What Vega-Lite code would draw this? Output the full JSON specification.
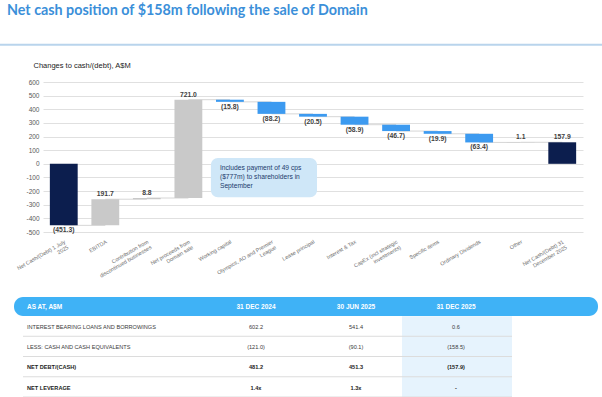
{
  "$schema": "https://vega.github.io/schema/vega-lite/v6.json",
  "width": 602,
  "height": 397,
  "autosize": {"type": "none"},
  "padding": 0,
  "background": "#ffffff",
  "config": {"view": {"stroke": null}, "font": "Liberation Sans", "axis": {"labelOverlap": false}},
  "title": {
    "text": "Net cash position of $158m following the sale of Domain",
    "anchor": "start",
    "frame": "group",
    "font": "Lato",
    "fontSize": 14.3,
    "fontWeight": "bold",
    "color": "#3b8fd9",
    "baseline": "alphabetic",
    "offset": 0,
    "dy": 29,
    "dx": 7
  },
  "resolve": {"scale": {"x": "independent", "y": "independent", "color": "independent"}},
  "layer": [
    {
      "data": {
        "values": [
          {"step": "Net Cash/(Debt) 1 July 2025", "start": 0, "end": -451.3, "kind": "total", "label": "(451.3)", "next": "EBITDA"},
          {"step": "EBITDA", "start": -451.3, "end": -259.6, "kind": "up", "label": "191.7", "next": "Contribution from discontinued businesses"},
          {"step": "Contribution from discontinued businesses", "start": -259.6, "end": -250.8, "kind": "up", "label": "8.8", "next": "Net proceeds from Domain sale"},
          {"step": "Net proceeds from Domain sale", "start": -250.8, "end": 470.2, "kind": "up", "label": "721.0", "next": "Working capital"},
          {"step": "Working capital", "start": 470.2, "end": 454.4, "kind": "down", "label": "(15.8)", "next": "Olympics, AO and Premier League"},
          {"step": "Olympics, AO and Premier League", "start": 454.4, "end": 366.2, "kind": "down", "label": "(88.2)", "next": "Lease principal"},
          {"step": "Lease principal", "start": 366.2, "end": 345.7, "kind": "down", "label": "(20.5)", "next": "Interest & Tax"},
          {"step": "Interest & Tax", "start": 345.7, "end": 286.8, "kind": "down", "label": "(58.9)", "next": "CapEx (incl strategic investments)"},
          {"step": "CapEx (incl strategic investments)", "start": 286.8, "end": 240.1, "kind": "down", "label": "(46.7)", "next": "Specific items"},
          {"step": "Specific items", "start": 240.1, "end": 220.2, "kind": "down", "label": "(19.9)", "next": "Ordinary Dividends"},
          {"step": "Ordinary Dividends", "start": 220.2, "end": 156.8, "kind": "down", "label": "(63.4)", "next": "Other"},
          {"step": "Other", "start": 156.8, "end": 157.9, "kind": "up", "label": "1.1", "next": "Net Cash/(Debt) 31 December 2025"},
          {"step": "Net Cash/(Debt) 31 December 2025", "start": 0, "end": 157.9, "kind": "total", "label": "157.9"}
        ]
      },
      "layer": [
        {
          "mark": {"type": "rule", "color": "#d6d6d6", "strokeWidth": 1},
          "transform": [{"filter": "datum.next != null"}],
          "encoding": {
            "x": {
              "field": "step", "type": "nominal",
              "scale": {
                "domain": ["Net Cash/(Debt) 1 July 2025", "EBITDA", "Contribution from discontinued businesses", "Net proceeds from Domain sale", "Working capital", "Olympics, AO and Premier League", "Lease principal", "Interest & Tax", "CapEx (incl strategic investments)", "Specific items", "Ordinary Dividends", "Other", "Net Cash/(Debt) 31 December 2025"],
                "range": [43, 583], "paddingInner": 0.33, "paddingOuter": 0.165
              },
              "axis": {
                "orient": "bottom", "offset": -165, "title": null, "labelAngle": -30, "labelAlign": "right", "labelBaseline": "top",
                "labelFontSize": 5.4, "labelColor": "#6b6b6b", "ticks": false, "domain": false, "labelPadding": 7, "labelLineHeight": 6.4, "labelOverlap": false, "labelBound": false,
                "labelExpr": "datum.value == 'Net Cash/(Debt) 1 July 2025' ? ['Net Cash/(Debt) 1 July', '2025'] : datum.value == 'Contribution from discontinued businesses' ? ['Contribution from', 'discontinued businesses'] : datum.value == 'Net proceeds from Domain sale' ? ['Net proceeds from', 'Domain sale'] : datum.value == 'Olympics, AO and Premier League' ? ['Olympics, AO and Premier', 'League'] : datum.value == 'CapEx (incl strategic investments)' ? ['CapEx (incl strategic', 'investments)'] : datum.value == 'Net Cash/(Debt) 31 December 2025' ? ['Net Cash/(Debt) 31', 'December 2025'] : datum.label"
              }
            },
            "x2": {"field": "next"},
            "y": {
              "field": "end", "type": "quantitative",
              "scale": {"domain": [-500, 600], "range": [232, 82], "nice": false, "zero": false},
              "axis": {
                "orient": "left", "offset": -43, "values": [-500, -400, -300, -200, -100, 0, 100, 200, 300, 400, 500, 600], "tickCount": 12,
                "labelExpr": "'' + datum.value", "labelFontSize": 6.5, "labelColor": "#595959", "labelPadding": 4, "labelOverlap": false, "labelBound": false,
                "ticks": false, "domain": false, "grid": true, "gridColor": "#e0e0e0", "gridWidth": 1,
                "title": "Changes to cash/(debt), A$M", "titleAngle": 0, "titleX": -10, "titleY": 65, "titleAlign": "left", "titleBaseline": "middle",
                "titleFontSize": 7.5, "titleFontWeight": "normal", "titleColor": "#222222"
              }
            }
          }
        },
        {
          "mark": {"type": "bar"},
          "encoding": {
            "x": {"field": "step", "type": "nominal"},
            "y": {"field": "start", "type": "quantitative"},
            "y2": {"field": "end"},
            "color": {"field": "kind", "type": "nominal", "scale": {"domain": ["total", "up", "down"], "range": ["#0c1e4e", "#c9c9c9", "#3c9af0"]}, "legend": null}
          }
        },
        {
          "transform": [{"filter": "datum.end < datum.start"}],
          "mark": {"type": "text", "baseline": "top", "dy": 2, "fontSize": 6.8, "fontWeight": "bold", "fill": "#3f3f3f"},
          "encoding": {
            "x": {"field": "step", "type": "nominal"},
            "y": {"field": "end", "type": "quantitative"},
            "text": {"field": "label"}
          }
        },
        {
          "transform": [{"filter": "datum.end >= datum.start"}],
          "mark": {"type": "text", "baseline": "bottom", "dy": -2, "fontSize": 6.8, "fontWeight": "bold", "fill": "#3f3f3f"},
          "encoding": {
            "x": {"field": "step", "type": "nominal"},
            "y": {"field": "end", "type": "quantitative"},
            "text": {"field": "label"}
          }
        },
        {
          "data": {"values": [{"part": "header rule"}]},
          "mark": {"type": "rule", "color": "#b9d4ec", "strokeWidth": 2},
          "encoding": {"y": {"datum": 874, "type": "quantitative"}}
        },
        {
          "data": {"values": [{"note": "Includes payment of 49 cps\n($777m) to shareholders in\nSeptember"}]},
          "layer": [
            {
              "mark": {"type": "rect", "color": "#cfe7f8", "cornerRadius": 7, "xOffset": -19, "x2Offset": 4},
              "encoding": {
                "x": {"datum": "Working capital", "type": "nominal"},
                "x2": {"datum": "Lease principal"},
                "y": {"datum": 42, "type": "quantitative"},
                "y2": {"datum": -246}
              }
            },
            {
              "mark": {"type": "text", "align": "left", "baseline": "top", "dx": -10, "fontSize": 6.7, "lineHeight": 8.8, "lineBreak": "\n", "fill": "#1c3a6b"},
              "encoding": {
                "x": {"datum": "Working capital", "type": "nominal"},
                "y": {"datum": -8, "type": "quantitative"},
                "text": {"field": "note"}
              }
            }
          ]
        }
      ]
    },
    {
      "data": {
        "values": [
          {"row": "AS AT, A$M", "col": "ITEM", "text": "AS AT, A$M"},
          {"row": "AS AT, A$M", "col": "31 DEC 2024", "text": "31 DEC 2024"},
          {"row": "AS AT, A$M", "col": "30 JUN 2025", "text": "30 JUN 2025"},
          {"row": "AS AT, A$M", "col": "31 DEC 2025", "text": "31 DEC 2025"},
          {"row": "INTEREST BEARING LOANS AND BORROWINGS", "col": "ITEM", "text": "INTEREST BEARING LOANS AND BORROWINGS"},
          {"row": "INTEREST BEARING LOANS AND BORROWINGS", "col": "31 DEC 2024", "text": "602.2"},
          {"row": "INTEREST BEARING LOANS AND BORROWINGS", "col": "30 JUN 2025", "text": "541.4"},
          {"row": "INTEREST BEARING LOANS AND BORROWINGS", "col": "31 DEC 2025", "text": "0.6"},
          {"row": "LESS: CASH AND CASH EQUIVALENTS", "col": "ITEM", "text": "LESS: CASH AND CASH EQUIVALENTS"},
          {"row": "LESS: CASH AND CASH EQUIVALENTS", "col": "31 DEC 2024", "text": "(121.0)"},
          {"row": "LESS: CASH AND CASH EQUIVALENTS", "col": "30 JUN 2025", "text": "(90.1)"},
          {"row": "LESS: CASH AND CASH EQUIVALENTS", "col": "31 DEC 2025", "text": "(158.5)"},
          {"row": "NET DEBT/(CASH)", "col": "ITEM", "text": "NET DEBT/(CASH)"},
          {"row": "NET DEBT/(CASH)", "col": "31 DEC 2024", "text": "481.2"},
          {"row": "NET DEBT/(CASH)", "col": "30 JUN 2025", "text": "451.3"},
          {"row": "NET DEBT/(CASH)", "col": "31 DEC 2025", "text": "(157.9)"},
          {"row": "NET LEVERAGE", "col": "ITEM", "text": "NET LEVERAGE"},
          {"row": "NET LEVERAGE", "col": "31 DEC 2024", "text": "1.4x"},
          {"row": "NET LEVERAGE", "col": "30 JUN 2025", "text": "1.3x"},
          {"row": "NET LEVERAGE", "col": "31 DEC 2025", "text": "-"}
        ]
      },
      "layer": [
        {
          "data": {"values": [{"part": "highlight"}]},
          "mark": {"type": "rect", "color": "#e6f3fd", "xOffset": -54, "x2Offset": 56, "yOffset": -10.5, "y2Offset": 11},
          "encoding": {
            "x": {"datum": "31 DEC 2025", "type": "nominal", "scale": {"type": "point", "domain": ["ITEM", "31 DEC 2024", "30 JUN 2025", "31 DEC 2025"], "range": [156, 456], "padding": 0}, "axis": null},
            "x2": {"datum": "31 DEC 2025"},
            "y": {"datum": "INTEREST BEARING LOANS AND BORROWINGS", "type": "nominal", "scale": {"type": "point", "domain": ["AS AT, A$M", "INTEREST BEARING LOANS AND BORROWINGS", "LESS: CASH AND CASH EQUIVALENTS", "NET DEBT/(CASH)", "NET LEVERAGE"], "range": [306.5, 387.5], "padding": 0}, "axis": null},
            "y2": {"datum": "NET LEVERAGE"}
          }
        },
        {
          "data": {"values": [{"part": "header"}]},
          "mark": {"type": "rect", "color": "#3fb2f6", "cornerRadius": 9, "xOffset": -142, "x2Offset": 142, "yOffset": -9.5, "y2Offset": 9.5},
          "encoding": {
            "x": {"datum": "ITEM", "type": "nominal"},
            "x2": {"datum": "31 DEC 2025"},
            "y": {"datum": "AS AT, A$M", "type": "nominal"},
            "y2": {"datum": "AS AT, A$M"}
          }
        },
        {
          "transform": [{"filter": "datum.col == 'ITEM' && datum.row != 'AS AT, A$M'"}],
          "mark": {"type": "rule", "color": "#dcdcdc", "strokeWidth": 1, "xOffset": -133, "x2Offset": 56, "yOffset": 9.5},
          "encoding": {
            "x": {"datum": "ITEM", "type": "nominal"},
            "x2": {"datum": "31 DEC 2025"},
            "y": {"field": "row", "type": "nominal"}
          }
        },
        {
          "transform": [{"filter": "datum.row == 'AS AT, A$M' && datum.col == 'ITEM'"}],
          "mark": {"type": "text", "align": "left", "dx": -129, "baseline": "middle", "fontSize": 6.5, "fontWeight": "bold", "fill": "#ffffff"},
          "encoding": {"x": {"field": "col", "type": "nominal"}, "y": {"field": "row", "type": "nominal"}, "text": {"field": "text"}}
        },
        {
          "transform": [{"filter": "datum.row == 'AS AT, A$M' && datum.col != 'ITEM'"}],
          "mark": {"type": "text", "align": "center", "baseline": "middle", "fontSize": 6.5, "fontWeight": "bold", "fill": "#ffffff"},
          "encoding": {"x": {"field": "col", "type": "nominal"}, "y": {"field": "row", "type": "nominal"}, "text": {"field": "text"}}
        },
        {
          "transform": [{"filter": "(datum.row == 'INTEREST BEARING LOANS AND BORROWINGS' || datum.row == 'LESS: CASH AND CASH EQUIVALENTS') && datum.col == 'ITEM'"}],
          "mark": {"type": "text", "align": "left", "dx": -129, "baseline": "middle", "fontSize": 5.6, "fill": "#3a3a3a"},
          "encoding": {"x": {"field": "col", "type": "nominal"}, "y": {"field": "row", "type": "nominal"}, "text": {"field": "text"}}
        },
        {
          "transform": [{"filter": "(datum.row == 'INTEREST BEARING LOANS AND BORROWINGS' || datum.row == 'LESS: CASH AND CASH EQUIVALENTS') && datum.col != 'ITEM'"}],
          "mark": {"type": "text", "align": "center", "baseline": "middle", "fontSize": 5.6, "fill": "#3a3a3a"},
          "encoding": {"x": {"field": "col", "type": "nominal"}, "y": {"field": "row", "type": "nominal"}, "text": {"field": "text"}}
        },
        {
          "transform": [{"filter": "(datum.row == 'NET DEBT/(CASH)' || datum.row == 'NET LEVERAGE') && datum.col == 'ITEM'"}],
          "mark": {"type": "text", "align": "left", "dx": -129, "baseline": "middle", "fontSize": 5.6, "fontWeight": "bold", "fill": "#222222"},
          "encoding": {"x": {"field": "col", "type": "nominal"}, "y": {"field": "row", "type": "nominal"}, "text": {"field": "text"}}
        },
        {
          "transform": [{"filter": "(datum.row == 'NET DEBT/(CASH)' || datum.row == 'NET LEVERAGE') && datum.col != 'ITEM'"}],
          "mark": {"type": "text", "align": "center", "baseline": "middle", "fontSize": 5.6, "fontWeight": "bold", "fill": "#222222"},
          "encoding": {"x": {"field": "col", "type": "nominal"}, "y": {"field": "row", "type": "nominal"}, "text": {"field": "text"}}
        }
      ]
    }
  ]
}
